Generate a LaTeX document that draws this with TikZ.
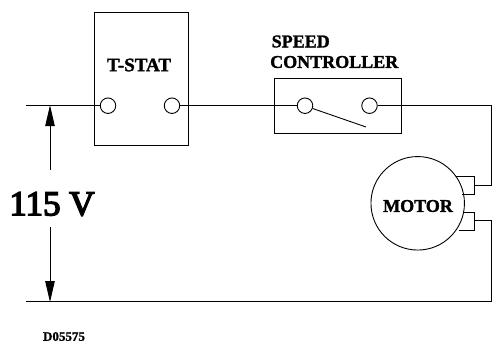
\documentclass[tikz,border=0pt]{standalone}
\usepackage{fontspec}
\setmainfont{Liberation Serif}
\newfontfamily\labfont[FakeBold=1.5]{Liberation Serif Bold}
\newfontfamily\voltfont[FakeBold=4]{Liberation Serif}
\usetikzlibrary{arrows.meta}
\tikzset{
  wire/.style={draw=black,line width=0.9pt},
  box/.style={draw=black,line width=0.9pt,fill=none},
  term/.style={circle,draw=black,line width=0.9pt,inner sep=0pt,minimum size=15.5pt,fill=white},
  lab/.style={inner sep=0pt,font=\labfont\fontsize{18}{19}\selectfont},
  dim/.style={wire,-{Triangle[length=21pt,width=9.5pt]},shorten >=-0.5pt},
}
\begin{document}
\begin{tikzpicture}[x=1pt,y=-1pt]
\useasboundingbox (0,0) rectangle (492,343);
\fill[white] (0,0) rectangle (492,343);
% boxes
\node[box,minimum width=94pt,minimum height=133pt,inner sep=0pt,anchor=north west] (tstat) at (94,12) {};
\node[box,minimum width=127pt,minimum height=55pt,inner sep=0pt,anchor=north west] (speed) at (273.5,78) {};
% free wire ends
\coordinate (lt) at (26,105.7);
\coordinate (lb) at (26,301.5);
\coordinate (rb) at (491.5,301.5);
\coordinate (rt) at (491.5,105.7);
\coordinate (arrt) at (50,105.7);
\coordinate (arrb) at (50,301.5);
\coordinate (arrtS) at (50,170);
\coordinate (arrbS) at (50,227);
\coordinate (swe) at (366,127);
% terminals
\node[term] (t1) at (108,105.7) {};
\node[term] (t2) at (172,105.7) {};
\node[term] (s1) at (305,105.7) {};
\node[term] (s2) at (369.5,105.7) {};
% motor
\node[circle,draw=black,line width=0.9pt,minimum size=93.5pt,inner sep=0pt] (motor) at (417.7,203.3) {};
\node[lab] (motorl) at (418,206) {MOTOR};
% brush connectors
\coordinate (b1a) at (455.5,176.7);
\coordinate (b1b) at (474,176.7);
\coordinate (b1c) at (474,194);
\coordinate (b1d) at (461.5,194);
\coordinate (b2a) at (463.5,212);
\coordinate (b2b) at (474,212);
\coordinate (b2c) at (474,230);
\coordinate (b2d) at (458.5,230);
\coordinate (w1) at (474,185);
\coordinate (w2) at (474,220.7);
\draw[wire] (b1a) -- (b1b) -- (b1c) -- (b1d);
\draw[wire] (b2a) -- (b2b) -- (b2c) -- (b2d);
% wires
\draw[wire] (lt) -- (t1);
\draw[wire] (t2) -- (s1);
\draw[wire] (s2) -- (rt) -- (rt |- w1) -- (w1);
\draw[wire] (w2) -- (rt |- w2) -- (rb) -- (lb);
% switch blade
\draw[wire] (s1.-20) -- (swe);
% voltage arrows
\draw[dim] (arrtS) -- (arrt);
\draw[dim] (arrbS) -- (arrb);
% labels
\node[inner sep=0pt,font=\labfont\fontsize{19}{20}\selectfont] (tl) at (139,65) {T-STAT};
\node[lab,anchor=west] (sp) at (271.5,41.5) {SPEED};
\node[lab,anchor=west] (co) at (270,62) {CONTROLLER};
\node[inner sep=0pt,font=\voltfont\fontsize{35}{36}\selectfont] (v) at (52,204) {115 V};
\node[inner sep=0pt,font=\labfont\fontsize{13}{14}\selectfont] (d) at (64,336.5) {D05575};
\end{tikzpicture}
\end{document}
